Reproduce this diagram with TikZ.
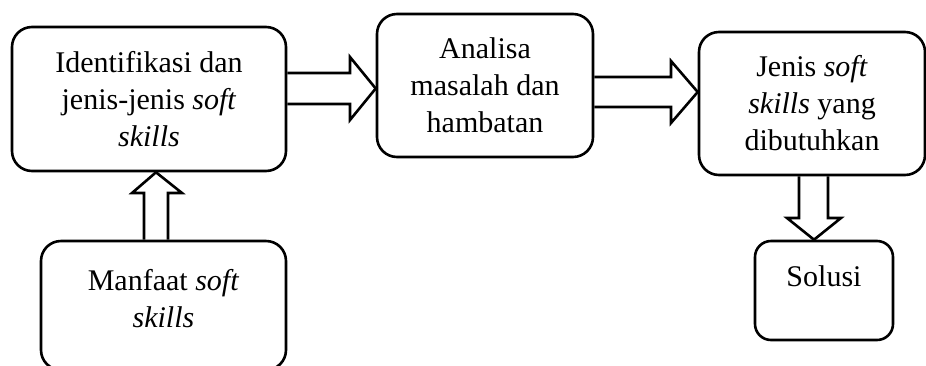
\documentclass[tikz,border=0pt]{standalone}
\usepackage{fontspec}
\setmainfont{Liberation Serif}
\usepackage{tikz}

\begin{document}
\begin{tikzpicture}[x=1pt, y=-1pt,
  box/.style={draw, line width=2.6pt, rounded corners=20pt, align=center, font=\fontsize{30}{37}\selectfont},
  hollow/.style={draw, line width=2.6pt, line join=miter}]
  \useasboundingbox (0,0) rectangle (926,365);
  \clip (0,0) rectangle (926,365);

  % Boxes
  \node[box, minimum width=274pt, minimum height=144pt] (identifikasi) at (149,99) {Identifikasi dan\\ jenis-jenis \textit{soft}\\ \textit{skills}};
  \node[box, minimum width=216pt, minimum height=143pt] (analisa) at (485,85.5) {Analisa\\ masalah dan\\ hambatan};
  \node[box, minimum width=226pt, minimum height=143pt] (jenis) at (812,103.5) {Jenis \textit{soft}\\ \textit{skills} yang\\ dibutuhkan};
  \node[box, minimum width=245pt, minimum height=129pt, text depth=14pt] (manfaat) at (163.5,305.5) {Manfaat \textit{soft}\\ \textit{skills}};
  \node[box, rounded corners=16pt, minimum width=138pt, minimum height=99pt, text depth=28pt] (solusi) at (824,290.5) {Solusi};

  % Block arrows
  \draw[hollow] (identifikasi.east |- 0,73) -- (350,73) -- (350,57) -- (analisa.west |- 0,88.5)
    -- (350,120) -- (350,104) -- (identifikasi.east |- 0,104);
  \draw[hollow] (analisa.east |- 0,77) -- (671,77) -- (671,61) -- (jenis.west |- 0,92)
    -- (671,123) -- (671,107) -- (analisa.east |- 0,107);
  \draw[hollow] (manfaat.north -| 144,0) -- (144,193) -- (132,193) -- (identifikasi.south -| 156,0)
    -- (182,193) -- (168,193) -- (manfaat.north -| 168,0);
  \draw[hollow] (jenis.south -| 799,0) -- (799,218) -- (787,218) -- (solusi.north -| 814,0)
    -- (841,218) -- (828,218) -- (jenis.south -| 828,0);

\end{tikzpicture}
\end{document}
